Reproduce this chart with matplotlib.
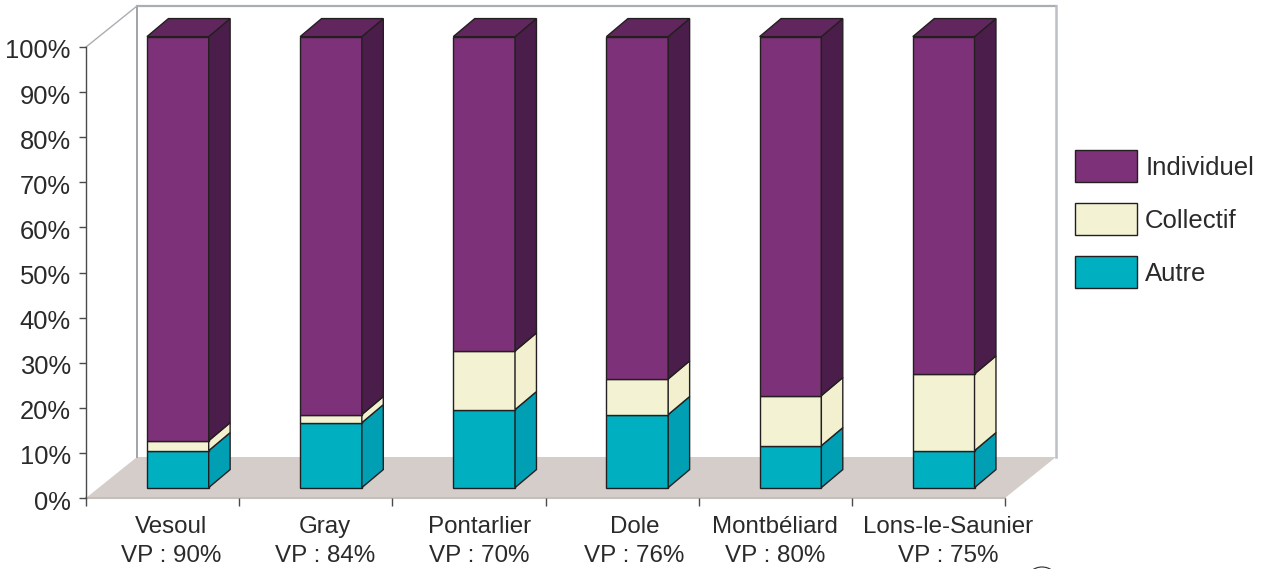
import matplotlib
matplotlib.use("Agg")
import matplotlib.pyplot as plt
from matplotlib.patches import Polygon, Patch, Arc
from matplotlib.transforms import ScaledTranslation

villes = ["Vesoul", "Gray", "Pontarlier", "Dole", "Montbéliard", "Lons-le-Saunier"]
vp = [90, 84, 70, 76, 80, 75]
autre = [8.2, 14.4, 17.3, 16.2, 9.3, 8.2]
collectif = [2.2, 1.8, 13.0, 7.9, 11.1, 17.0]
individuel = [89.6, 83.8, 69.7, 75.9, 79.6, 74.8]

plt.rcParams["font.family"] = ["Liberation Sans", "DejaVu Sans"]
encre = "#2b2a2a"
bord = "#231f20"
gris = "#a9aeb3"

# face avant, cote, dessus
c_ind = ("#7c3178", "#4b1d4a", "#62265f")
c_col = ("#f3f2d2", "#f2f0cf", "#f3f2d2")
c_aut = ("#00b0c1", "#009fb3", "#00b0c1")

W, H = 1265, 569
fig = plt.figure(figsize=(W / 100, H / 100), dpi=100)
ax = fig.add_axes([86 / W, (H - 498) / H, 919 / W, 451 / H])
ax.set_xlim(0, 6)
ax.set_ylim(0, 100)

# profondeur du repere et des barres (unites des axes)
px, py = 0.333, 9.09
bx, by = 0.14, 4.0
x0, larg, y0 = 0.398, 0.403, 2.3

ax.add_patch(Polygon([(0, 0), (6, 0), (6 + px, py), (px, py)], fc="#d4cdca", ec="none", clip_on=False, zorder=1))
ax.plot([0, px], [100, 100 + py], color=gris, lw=1, clip_on=False, zorder=1)
ax.plot([px, px], [py, 100 + py], color="#8f959b", lw=1.2, clip_on=False, zorder=1)
ax.plot([px, 6 + px], [100 + py, 100 + py], color=gris, lw=1.6, clip_on=False, zorder=1)
ax.plot([6 + px, 6 + px], [py, 100 + py], color="#bcc0c4", lw=1.8, clip_on=False, zorder=1)
ax.plot([0, 6], [0, 0], color="#c4bfbc", lw=1.5, clip_on=False, zorder=1)


def segment(i, bas, val, couleurs, dessus=False):
    g = x0 + i
    d = g + larg
    haut = bas + val
    z = 3
    ax.add_patch(Polygon([(g, bas), (d, bas), (d, haut), (g, haut)], fc=couleurs[0], ec=bord, lw=1, clip_on=False, zorder=z))
    ax.add_patch(Polygon([(d, bas), (d + bx, bas + by), (d + bx, haut + by), (d, haut)], fc=couleurs[1], ec=bord, lw=1, clip_on=False, zorder=z))
    if dessus:
        ax.add_patch(Polygon([(g, haut), (d, haut), (d + bx, haut + by), (g + bx, haut + by)], fc=couleurs[2], ec=bord, lw=1, clip_on=False, zorder=z))


for i in range(len(villes)):
    segment(i, y0, autre[i], c_aut)
    segment(i, y0 + autre[i], collectif[i], c_col)
    segment(i, y0 + autre[i] + collectif[i], individuel[i], c_ind, dessus=True)

for s in ["top", "right", "bottom"]:
    ax.spines[s].set_visible(False)
ax.spines["left"].set_color("#4a4a4a")
ax.spines["left"].set_linewidth(1)

ax.set_yticks(range(0, 101, 10))
ax.set_yticklabels([f"{v}%" for v in range(0, 101, 10)], fontsize=18.4, color=encre)
ax.tick_params(axis="y", length=5, width=1, color="#4a4a4a", pad=6)
# labels un peu plus bas que les graduations
decale = ScaledTranslation(0, -2 / 100, fig.dpi_scale_trans)
for t in ax.get_yticklabels():
    t.set_transform(t.get_transform() + decale)

ax.set_xticks(range(7))
ax.set_xticklabels([])
ax.tick_params(axis="x", length=6, width=1, color="#4a4a4a")

centres = [0.555, 1.56, 2.57, 3.58, 4.5, 5.63]
ax.set_xticks(centres, minor=True)
ax.set_xticklabels([f"{v}\nVP : {p}%" for v, p in zip(villes, vp)], minor=True, fontsize=17.4, color=encre, linespacing=1.42)
ax.tick_params(axis="x", which="minor", length=0, pad=13)

handles = [Patch(fc=c_ind[0], ec=bord, lw=1), Patch(fc=c_col[0], ec=bord, lw=1), Patch(fc=c_aut[0], ec=bord, lw=1)]
leg = fig.legend(handles, ["Individuel", "Collectif", "Autre"], loc="upper left", bbox_to_anchor=(1075 / W, 1 - 150 / H),
                 frameon=False, borderpad=0, borderaxespad=0, fontsize=18.5, handlelength=2.42, handleheight=1.546,
                 labelspacing=0.82, handletextpad=0.31, labelcolor=encre)

# petit arc coupe en bas a droite
fig.add_artist(Arc((1042 / W, 1 - 580 / H), 30 / W, 26 / H, theta1=20, theta2=160, color=encre, lw=0.8, transform=fig.transFigure))

fig.savefig("out.png", dpi=100)
